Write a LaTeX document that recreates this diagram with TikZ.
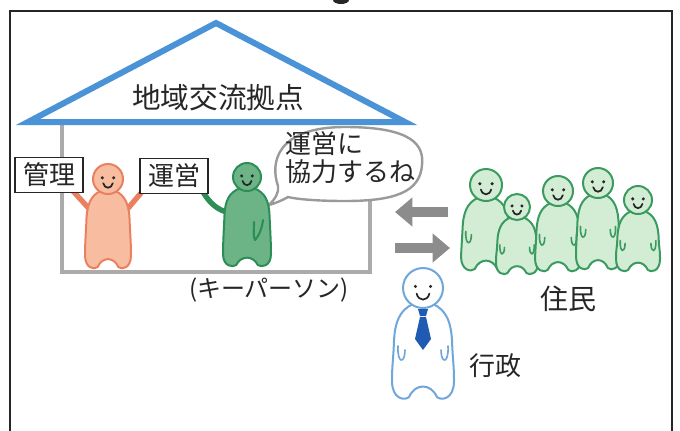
\documentclass[tikz,border=0pt]{standalone}
\usepackage{fontspec}
\setmainfont{Noto Sans CJK JP}
\usetikzlibrary{arrows.meta}

\definecolor{roofblue}{HTML}{4A93D6}
\definecolor{wallgray}{HTML}{ABABAB}
\definecolor{arrowgray}{HTML}{8C8C8C}
\definecolor{inkdark}{HTML}{262626}
\definecolor{mgrfill}{HTML}{F8BDA0}
\definecolor{mgrline}{HTML}{EA8060}
\definecolor{keyfill}{HTML}{6CB486}
\definecolor{keyline}{HTML}{2C8E56}
\definecolor{resfill}{HTML}{D3EDD4}
\definecolor{resline}{HTML}{3A9B60}
\definecolor{govline}{HTML}{6FA6DC}
\definecolor{tieblue}{HTML}{1F5BB3}

% a smiling figure: x, y (head centre), head radius, body half width,
% foot depth below head centre, fill colour, line colour
\newcommand\drawperson[7]{%
  \path[fill=#6,draw=#7,line width=1.5pt,line join=round]
    ({#1-0.5*#3},{#2+0.8*#3})
    .. controls ({#1-0.75*#4},{#2+1.1*#3}) and ({#1-0.92*#4},{#2+1.7*#3}) .. ({#1-0.94*#4},{#2+2.8*#3})
    .. controls ({#1-0.96*#4},{#2+3.6*#3}) and ({#1-#4},{#2+#5-1.6*#3}) .. ({#1-#4},{#2+#5-0.8*#3})
    .. controls ({#1-#4},{#2+#5+0.1*#3}) and ({#1-0.6*#4},{#2+#5+0.2*#3}) .. ({#1-0.45*#4},{#2+#5})
    .. controls ({#1-0.25*#4},{#2+#5-0.7*#3}) and ({#1+0.25*#4},{#2+#5-0.7*#3}) .. ({#1+0.45*#4},{#2+#5})
    .. controls ({#1+0.6*#4},{#2+#5+0.2*#3}) and ({#1+#4},{#2+#5+0.1*#3}) .. ({#1+#4},{#2+#5-0.8*#3})
    .. controls ({#1+#4},{#2+#5-1.6*#3}) and ({#1+0.96*#4},{#2+3.6*#3}) .. ({#1+0.94*#4},{#2+2.8*#3})
    .. controls ({#1+0.92*#4},{#2+1.7*#3}) and ({#1+0.75*#4},{#2+1.1*#3}) .. ({#1+0.5*#3},{#2+0.8*#3})
    -- cycle;
  \path[fill=#6,draw=#7,line width=1.5pt] (#1,#2) circle[radius=#3];
  \fill[inkdark] ({#1-0.38*#3},{#2-0.08*#3}) circle[radius=1.7];
  \fill[inkdark] ({#1+0.38*#3},{#2-0.08*#3}) circle[radius=1.7];
  \draw[inkdark,line width=1.3pt,line cap=round]
    ({#1-0.32*#3},{#2+0.28*#3})
    .. controls ({#1-0.22*#3},{#2+0.68*#3}) and ({#1+0.22*#3},{#2+0.68*#3}) .. ({#1+0.32*#3},{#2+0.28*#3});
}
% small hand strokes drawn on the sides of a body
\newcommand\drawhands[5]{% x, y, head radius, body half width, line colour
  \draw[#5,line width=1.2pt,line cap=round]
    ({#1-#4+0.3*#3},{#2+2.9*#3})
    .. controls ({#1-#4+0.25*#3},{#2+3.8*#3}) and ({#1-#4+0.65*#3},{#2+3.8*#3}) .. ({#1-#4+0.65*#3},{#2+3.1*#3});
  \draw[#5,line width=1.2pt,line cap=round]
    ({#1+#4-0.3*#3},{#2+2.9*#3})
    .. controls ({#1+#4-0.25*#3},{#2+3.8*#3}) and ({#1+#4-0.65*#3},{#2+3.8*#3}) .. ({#1+#4-0.65*#3},{#2+3.1*#3});
}

\tikzset{
  frameline/.style={draw=inkdark,line width=2pt},
  roofline/.style={draw=roofblue,line width=4.5pt,line join=miter},
  wallline/.style={draw=wallgray,line width=3pt,line join=miter},
  signbox/.style={draw=inkdark,fill=white,line width=1.1pt,inner sep=2.5pt,
    minimum width=51pt,minimum height=26pt,text=inkdark,
    font=\fontsize{19.5}{22}\selectfont},
  bubbleline/.style={draw=wallgray!90!black,fill=white,line width=1.8pt},
  bigarrow/.style={draw=arrowgray,line width=7.5pt,
    -{Triangle[length=13pt,width=21pt]}},
  label/.style={text=inkdark,inner sep=0pt},
}

\begin{document}
\begin{tikzpicture}[x=0.75pt,y=-0.75pt]
\useasboundingbox (0,0) rectangle (680,430);
\clip (0,0) rectangle (680,430);
\fill[white] (0,0) rectangle (680,430);

% outer panel and the cut mark above it
\fill[inkdark] (341,0) ellipse[x radius=8,y radius=4];
\draw[frameline] (10,440) -- (10,11) -- (672,11) -- (672,440);

% house walls
\draw[wallline] (62,124) -- (62,272) -- (370,272) -- (370,196);

% speech bubble of the key person
\draw[bubbleline] (269,205) .. controls (276,198) and (279,192) .. (278,186)
  .. controls (270,163) and (276,127) .. (345,127)
  .. controls (414,127) and (424,146) .. (422,165)
  .. controls (420,192) and (395,201) .. (345,201)
  .. controls (316,201) and (296,199) .. (288,197)
  .. controls (283,200) and (276,203) .. (269,205) -- cycle;
\node[label,anchor=north west,align=left,
  font=\fontsize{19.5}{21.5}\selectfont] (say) at (285,131) {運営に\\協力するね};

% roof
\draw[roofline] (28,122) -- (216,23) -- (405,122) -- cycle;
\node[label,font=\fontsize{21.5}{24}\selectfont] (base) at (218,98) {地域交流拠点};

% manager (orange) holding the sign
\draw[mgrline,line width=4pt,line cap=round] (93,213) -- (73,191);
\draw[mgrline,line width=4pt,line cap=round] (124,213) -- (141,193);
\drawperson{108}{179}{15}{23}{88}{mgrfill}{mgrline}
\node[signbox] (kanri) at (49,175) {管理};

% key person (green) holding the sign
\draw[keyline,line width=4pt,line cap=round] (226,212) .. controls (214,208) and (208,200) .. (203,192);
\drawperson{247}{177}{14}{24}{88}{keyfill}{keyline}
\draw[keyline,line width=1.6pt,line cap=round,line join=round]
  (254,222) .. controls (254,230) and (253,236) .. (255,240)
  .. controls (259,236) and (262,228) .. (263,220);
\node[signbox] (unei) at (174,176) {運営};
\node[label,font=\fontsize{18}{20}\selectfont] (key) at (269,290) {(キーパーソン)};

% exchange between the house and the residents
\coordinate (inL) at (395,212);
\coordinate (fromR) at (448,212);
\coordinate (outL) at (395,248);
\coordinate (toR) at (450,248);
\draw[bigarrow] (fromR) -- (inL);
\draw[bigarrow] (outL) -- (toR);

% residents
\drawperson{486}{185}{16}{25}{84}{resfill}{resline}
\drawhands{486}{185}{16}{25}{resline}
\drawperson{517}{207}{13}{21}{66}{resfill}{resline}
\drawhands{517}{207}{13}{21}{resline}
\drawperson{558}{191}{15}{23}{79}{resfill}{resline}
\drawhands{558}{191}{15}{23}{resline}
\drawperson{598}{183}{15}{22}{85}{resfill}{resline}
\drawhands{598}{183}{15}{22}{resline}
\drawperson{638}{200}{14}{22}{70}{resfill}{resline}
\drawhands{638}{200}{14}{22}{resline}
\node[label,font=\fontsize{21}{24}\selectfont] (jumin) at (568,299) {住民};

% administration
\drawperson{423}{288}{20}{31}{109}{white}{govline}
\drawhands{423}{288}{20}{31}{govline}
\fill[tieblue] (418,309) -- (428,309) -- (426,316) -- (420,316) -- cycle;
\fill[tieblue] (420,317) -- (426,317) -- (431,339) -- (423,350) -- (415,339) -- cycle;
\node[label,font=\fontsize{19.5}{22}\selectfont] (gyosei) at (495,366) {行政};

\end{tikzpicture}
\end{document}
